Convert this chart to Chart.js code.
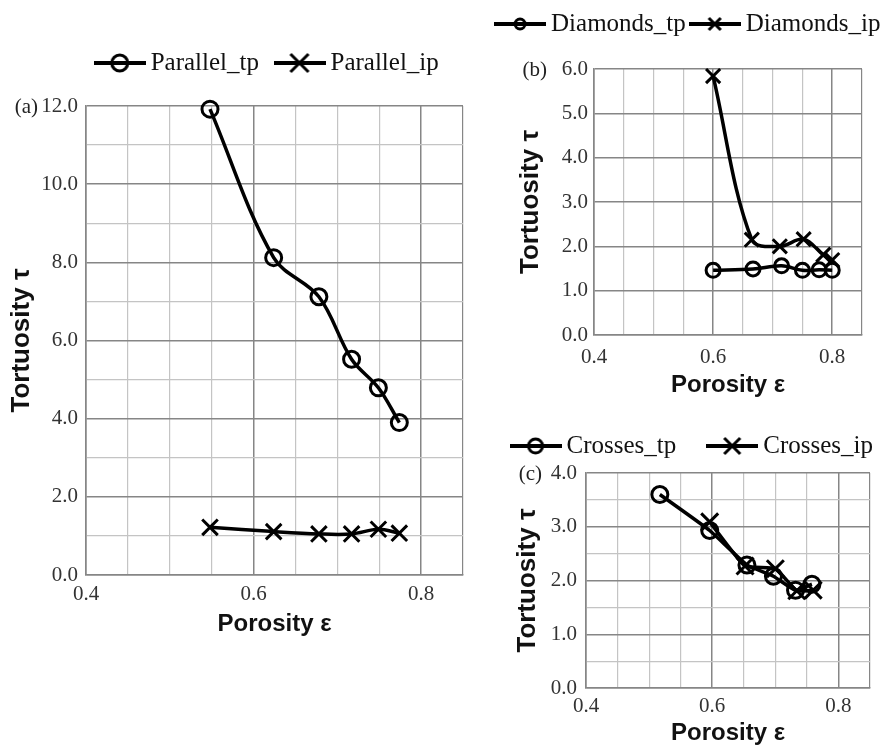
<!DOCTYPE html>
<html>
<head>
<meta charset="utf-8">
<script src="https://cdn.jsdelivr.net/npm/chart.js@4/dist/chart.umd.min.js"></script>
<style>
  html, body { margin: 0; padding: 0; background: #fff; overflow: hidden; }
  body { width: 888px; height: 748px; position: relative; }
  canvas { position: absolute; }
</style>
</head>
<body>
<canvas id="chartA" width="540" height="620" style="left:0px;top:30px"></canvas>
<canvas id="chartB" width="402" height="400" style="left:490px;top:0px"></canvas>
<canvas id="chartC" width="470" height="348" style="left:460px;top:400px"></canvas>
<script>
// (a) Parallel
var parallelPorosity = [0.548, 0.624, 0.678, 0.717, 0.749, 0.774]
var parallelTp = [11.92, 8.12, 7.12, 5.52, 4.79, 3.90]
var parallelIp = [1.22, 1.11, 1.05, 1.05, 1.17, 1.07]

// (b) Diamonds
var diamondsTpPorosity = [0.600, 0.667, 0.715, 0.750, 0.778, 0.800]
var diamondsTp = [1.46, 1.49, 1.56, 1.46, 1.47, 1.46]
var diamondsIpPorosity = [0.600, 0.665, 0.712, 0.752, 0.785, 0.800]
var diamondsIp = [5.84, 2.15, 2.00, 2.16, 1.81, 1.69]

// (c) Crosses
var crossesTpPorosity = [0.517, 0.596, 0.655, 0.697, 0.732, 0.758]
var crossesTp = [3.60, 2.93, 2.29, 2.08, 1.82, 1.93]
var crossesIpPorosity = [0.596, 0.652, 0.700, 0.734, 0.760]
var crossesIp = [3.09, 2.27, 2.22, 1.81, 1.82]

var xTickLabels = ['0.4', '0.6', '0.8']

var SERIF = "'Liberation Serif', 'Times New Roman', serif"
var SANS = "'Liberation Sans', Arial, sans-serif"
var MAJOR = '#868686'
var MINOR = '#c4c4c4'

function pairs(xs, ys) {
    return xs.map(function (x, i) { return { x: x, y: ys[i] } })
}

function isMultiple(v, step) {
    var q = v / step
    return Math.abs(q - Math.round(q)) < 1e-6
}

// legend sample: line with marker in the middle
function legendIcon(kind, r) {
    var c = document.createElement('canvas')
    c.width = 52
    c.height = 26
    var g = c.getContext('2d')
    g.strokeStyle = '#000'
    g.lineWidth = 4
    g.beginPath()
    g.moveTo(0, 13)
    g.lineTo(52, 13)
    g.stroke()
    g.lineWidth = 3
    g.beginPath()
    if (kind === 'circle') {
        g.arc(26, 13, r, 0, Math.PI * 2)
    } else {
        g.moveTo(26 - r, 13 - r); g.lineTo(26 + r, 13 + r)
        g.moveTo(26 + r, 13 - r); g.lineTo(26 - r, 13 + r)
    }
    g.stroke()
    return c
}

var panelLabel = {
    id: 'panelLabel',
    afterDraw: function (chart, args, opts) {
        var ctx = chart.ctx
        ctx.save()
        ctx.font = '21px ' + SERIF
        ctx.fillStyle = '#222'
        ctx.textAlign = 'right'
        ctx.textBaseline = 'middle'
        ctx.fillText(opts.text, chart.chartArea.left - opts.offset, chart.chartArea.top + 1)
        ctx.restore()
    }
}

var legendShift = {
    id: 'legendShift',
    afterLayout: function (chart, args, opts) {
        var lg = chart.legend
        if (lg && opts.dy) {
            lg.top += opts.dy
            lg.bottom += opts.dy
        }
    }
}

function makePanel(id, p) {
    var datasets = [
        {
            label: p.names[0],
            data: pairs(p.tpX, p.tpY),
            pointStyle: 'circle',
            pointRadius: p.circleR,
            pointBorderWidth: 3
        },
        {
            label: p.names[1],
            data: pairs(p.ipX, p.ipY),
            pointStyle: 'crossRot',
            pointRadius: p.crossR,
            pointBorderWidth: 3
        }
    ]
    datasets.forEach(function (d) {
        d.borderColor = '#000'
        d.backgroundColor = 'rgba(0,0,0,0)'
        d.pointBorderColor = '#000'
        d.pointBackgroundColor = 'rgba(0,0,0,0)'
        d.borderWidth = 3.5
        d.tension = p.tension
        d.clip = false
    })
    var icons = [legendIcon('circle', p.iconR), legendIcon('cross', p.iconR + 1)]

    return new Chart(document.getElementById(id), {
        type: 'line',
        data: { datasets: datasets },
        options: {
            responsive: false,
            animation: false,
            layout: { padding: { top: p.padTop, left: 0, right: 0, bottom: 0 } },
            plugins: {
                tooltip: { enabled: false },
                legend: {
                    position: 'top',
                    labels: {
                        usePointStyle: true,
                        pointStyleWidth: 37,
                        padding: p.legendPad,
                        color: '#111',
                        font: { family: SERIF, size: 25 },
                        generateLabels: function (chart) {
                            var items = Chart.defaults.plugins.legend.labels.generateLabels(chart)
                            items.forEach(function (it, i) { it.pointStyle = icons[i] })
                            return items
                        }
                    }
                },
                legendShift: { dy: p.legendDy },
                panelLabel: { text: p.panel, offset: p.panelOffset }
            },
            scales: {
                x: {
                    type: 'linear',
                    min: 0.4,
                    max: 0.85,
                    afterFit: function (s) { s.height = p.xHeight },
                    ticks: {
                        stepSize: 0.05,
                        autoSkip: false,
                        maxRotation: 0,
                        padding: p.xTickPad,
                        color: '#333',
                        font: { family: SERIF, size: 21 },
                        callback: function (v) {
                            var t = v.toFixed(1)
                            return isMultiple(v, 0.2) && xTickLabels.indexOf(t) >= 0 ? t : ''
                        }
                    },
                    grid: {
                        drawTicks: false,
                        color: function (c) {
                            var v = c.tick.value
                            return (isMultiple(v, 0.2) || v > 0.849) ? MAJOR : MINOR
                        },
                        lineWidth: function (c) { return isMultiple(c.tick.value, 0.2) ? 1.5 : 1.2 }
                    },
                    border: { color: MAJOR, width: 1.5 },
                    title: {
                        display: true,
                        text: 'Porosity ε',
                        color: '#111',
                        font: { family: SANS, size: 24, weight: 'bold' },
                        padding: { top: 0, bottom: p.xTitlePad }
                    }
                },
                y: {
                    type: 'linear',
                    min: 0,
                    max: p.yMax,
                    afterFit: function (s) { s.width = p.yWidth },
                    ticks: {
                        stepSize: p.yStep,
                        autoSkip: false,
                        padding: p.yTickPad,
                        color: '#333',
                        font: { family: SERIF, size: 21 },
                        callback: function (v) {
                            return isMultiple(v, p.yLabelStep) ? v.toFixed(1) : ''
                        }
                    },
                    grid: {
                        drawTicks: false,
                        color: function (c) { return isMultiple(c.tick.value, p.yLabelStep) ? MAJOR : MINOR },
                        lineWidth: function (c) { return isMultiple(c.tick.value, p.yLabelStep) ? 1.5 : 1.2 }
                    },
                    border: { color: MAJOR, width: 1.5 },
                    title: {
                        display: true,
                        text: 'Tortuosity τ',
                        color: '#111',
                        font: { family: SANS, size: 26, weight: 'bold' },
                        padding: { top: p.yTitlePad, bottom: 0 }
                    }
                },
                // empty right axis, only keeps the plot narrower than the legend row
                spacer: {
                    type: 'linear',
                    position: 'right',
                    display: true,
                    afterFit: function (s) { s.width = p.spacer },
                    ticks: { display: false },
                    grid: { display: false },
                    border: { display: false }
                }
            }
        },
        plugins: [panelLabel, legendShift]
    })
}

makePanel('chartA', {
    names: ['Parallel_tp', 'Parallel_ip'],
    tpX: parallelPorosity, tpY: parallelTp,
    ipX: parallelPorosity, ipY: parallelIp,
    circleR: 8, crossR: 11, iconR: 8, tension: 0.35,
    yMax: 12, yStep: 1, yLabelStep: 2,
    panel: '(a)', panelOffset: 48,
    padTop: 19, legendPad: 22, legendDy: -20.5,
    xHeight: 75, yWidth: 86, spacer: 77,
    xTickPad: 7, yTickPad: 8, xTitlePad: 11.6, yTitlePad: 6.6
})

makePanel('chartB', {
    names: ['Diamonds_tp', 'Diamonds_ip'],
    tpX: diamondsTpPorosity, tpY: diamondsTp,
    ipX: diamondsIpPorosity, ipY: diamondsIp,
    circleR: 7, crossR: 10, iconR: 5, tension: 0.35,
    yMax: 6, yStep: 1, yLabelStep: 1,
    panel: '(b)', panelOffset: 47,
    padTop: 23.5, legendPad: 10.5, legendDy: -22.5,
    xHeight: 65, yWidth: 104, spacer: 30,
    xTickPad: 10, yTickPad: 6, xTitlePad: 0, yTitlePad: 25.6
})

makePanel('chartC', {
    names: ['Crosses_tp', 'Crosses_ip'],
    tpX: crossesTpPorosity, tpY: crossesTp,
    ipX: crossesIpPorosity, ipY: crossesIp,
    circleR: 8, crossR: 12, iconR: 7, tension: 0.15,
    yMax: 4, yStep: 0.5, yLabelStep: 1,
    panel: '(c)', panelOffset: 44,
    padTop: 0.5, legendPad: 37.5, legendDy: -4.5,
    xHeight: 60, yWidth: 126, spacer: 60,
    xTickPad: 6, yTickPad: 9, xTitlePad: 0, yTitlePad: 52.6
})
</script>
</body>
</html>
